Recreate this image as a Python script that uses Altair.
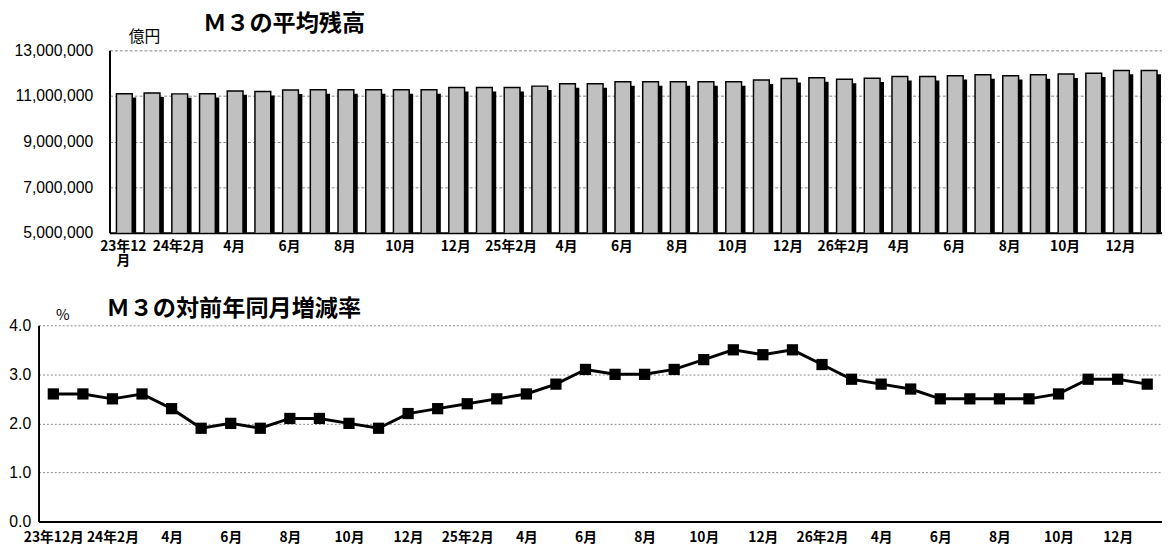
import json
import altair as alt
import pandas as pd

# ---- data ----
idx = list(range(38))

# M3 average balance, 億円 (Dec 2023 .. Jan 2027)
balance = [
    11100000, 11130000, 11090000, 11100000, 11220000, 11190000, 11260000, 11270000,
    11270000, 11270000, 11270000, 11270000, 11370000, 11370000, 11370000, 11430000,
    11530000, 11530000, 11620000, 11620000, 11620000, 11620000, 11620000, 11700000,
    11760000, 11800000, 11730000, 11780000, 11850000, 11850000, 11890000, 11930000,
    11890000, 11930000, 11960000, 12000000, 12120000, 12120000,
]

# M3 year-on-year growth, %
growth = [
    2.6, 2.6, 2.5, 2.6, 2.3, 1.9, 2.0, 1.9, 2.1, 2.1, 2.0, 1.9, 2.2, 2.3, 2.4, 2.5,
    2.6, 2.8, 3.1, 3.0, 3.0, 3.1, 3.3, 3.5, 3.4, 3.5, 3.2, 2.9, 2.8, 2.7, 2.5, 2.5,
    2.5, 2.5, 2.6, 2.9, 2.9, 2.8,
]

top_labels = [
    ["23年12", "月"], "", "24年2月", "", "4月", "", "6月", "", "8月", "", "10月", "",
    "12月", "", "25年2月", "", "4月", "", "6月", "", "8月", "", "10月", "", "12月", "",
    "26年2月", "", "4月", "", "6月", "", "8月", "", "10月", "", "12月", "",
]
bottom_labels = [
    "23年12月", "", "24年2月", "", "4月", "", "6月", "", "8月", "", "10月", "",
    "12月", "", "25年2月", "", "4月", "", "6月", "", "8月", "", "10月", "", "12月", "",
    "26年2月", "", "4月", "", "6月", "", "8月", "", "10月", "", "12月", "",
]
top_y_ticks = [5000000, 7000000, 9000000, 11000000, 13000000]
bottom_y_ticks = [0, 1, 2, 3, 4]

df = pd.DataFrame({"idx": idx, "balance": balance, "growth": growth})

FONT_NUM = "Liberation Sans"
FONT_JP = "Noto Sans CJK JP"

W = 1140
TOP_SHIFT = 72

# ---------------- top: bars ----------------
x_top = alt.X(
    "idx:O",
    scale=alt.Scale(range=[TOP_SHIFT, W], paddingInner=0, paddingOuter=0),
    axis=alt.Axis(
        title=None,
        labelExpr=json.dumps(top_labels, ensure_ascii=False) + "[datum.value]",
        labelAngle=0, labelFont=FONT_JP, labelFontSize=14, labelFontWeight="bold",
        labelColor="black", labelPadding=7, labelOverlap=False, labelLineHeight=14,
        domainColor="black", domainWidth=2, ticks=False, tickSize=0, grid=False,
    ),
)
y_top = alt.Y(
    "balance:Q",
    scale=alt.Scale(domain=[5000000, 13000000], nice=False, zero=False),
    axis=alt.Axis(
        values=top_y_ticks, format=",.0f", offset=-TOP_SHIFT,
        title="億円", titleAngle=0, titleX=35, titleY=-14, titleAlign="center",
        titleBaseline="middle", titleFont=FONT_JP, titleFontSize=16,
        titleFontWeight="normal", titleColor="black",
        labelFont=FONT_NUM, labelFontSize=16, labelColor="black", labelPadding=17,
        ticks=False, tickSize=0, domainColor="black", domainWidth=2,
        grid=True, gridColor="#888888", gridDash=[3, 2], gridWidth=1,
    ),
)

shadow = alt.Chart(df).mark_bar(
    color="black", size=16, xOffset=5, yOffset=4, clip=True
).encode(x=x_top, y=y_top)
bars = alt.Chart(df).mark_bar(
    color="#c0c0c0", stroke="black", strokeWidth=1.5, size=16, xOffset=1, clip=True
).encode(x=x_top, y=y_top)

top = alt.layer(shadow, bars).properties(
    width=W, height=185,
    title=alt.TitleParams(
        "Ｍ３の平均残高", anchor="start", frame="group", dx=167, offset=-7,
        font=FONT_JP, fontSize=23.5, fontWeight="bold", color="black",
    ),
)

# ---------------- bottom: line ----------------
x_bot = alt.X(
    "idx:O",
    scale=alt.Scale(paddingInner=0, paddingOuter=0),
    axis=alt.Axis(
        title=None,
        labelExpr=json.dumps(bottom_labels, ensure_ascii=False) + "[datum.value]",
        labelAngle=0, labelFont=FONT_JP, labelFontSize=14, labelFontWeight="bold",
        labelColor="black", labelPadding=9, labelOverlap=False,
        domainColor="black", domainWidth=2, ticks=False, tickSize=0, grid=False,
    ),
)
y_bot = alt.Y(
    "growth:Q",
    scale=alt.Scale(domain=[0, 4], nice=False),
    axis=alt.Axis(
        values=bottom_y_ticks, format=".1f",
        title="%", titleAngle=0, titleX=24, titleY=-11, titleAlign="center",
        titleBaseline="middle", titleFont=FONT_JP, titleFontSize=15,
        titleFontWeight="normal", titleColor="black",
        labelFont=FONT_NUM, labelFontSize=16, labelColor="black", labelPadding=8,
        ticks=False, tickSize=0, domainColor="black", domainWidth=2,
        grid=True, gridColor="#888888", gridDash=[2, 2], gridWidth=1,
    ),
)

line = alt.Chart(df).mark_line(color="black", strokeWidth=3).encode(x=x_bot, y=y_bot)
pts = alt.Chart(df).mark_point(
    shape="square", filled=True, color="black", size=130, opacity=1
).encode(x=x_bot, y=y_bot)

bottom = alt.layer(line, pts).properties(
    width=W, height=199,
    title=alt.TitleParams(
        "Ｍ３の対前年同月増減率", anchor="start", frame="group", dx=69, offset=-13,
        font=FONT_JP, fontSize=23.5, fontWeight="bold", color="black",
    ),
)

chart = alt.vconcat(top, bottom, spacing=30).properties(
    padding={"left": 0, "top": 0, "right": 0, "bottom": 0}
).configure_view(stroke=None)

chart.save("out.html", embed_options={"renderer": "svg", "actions": False})
